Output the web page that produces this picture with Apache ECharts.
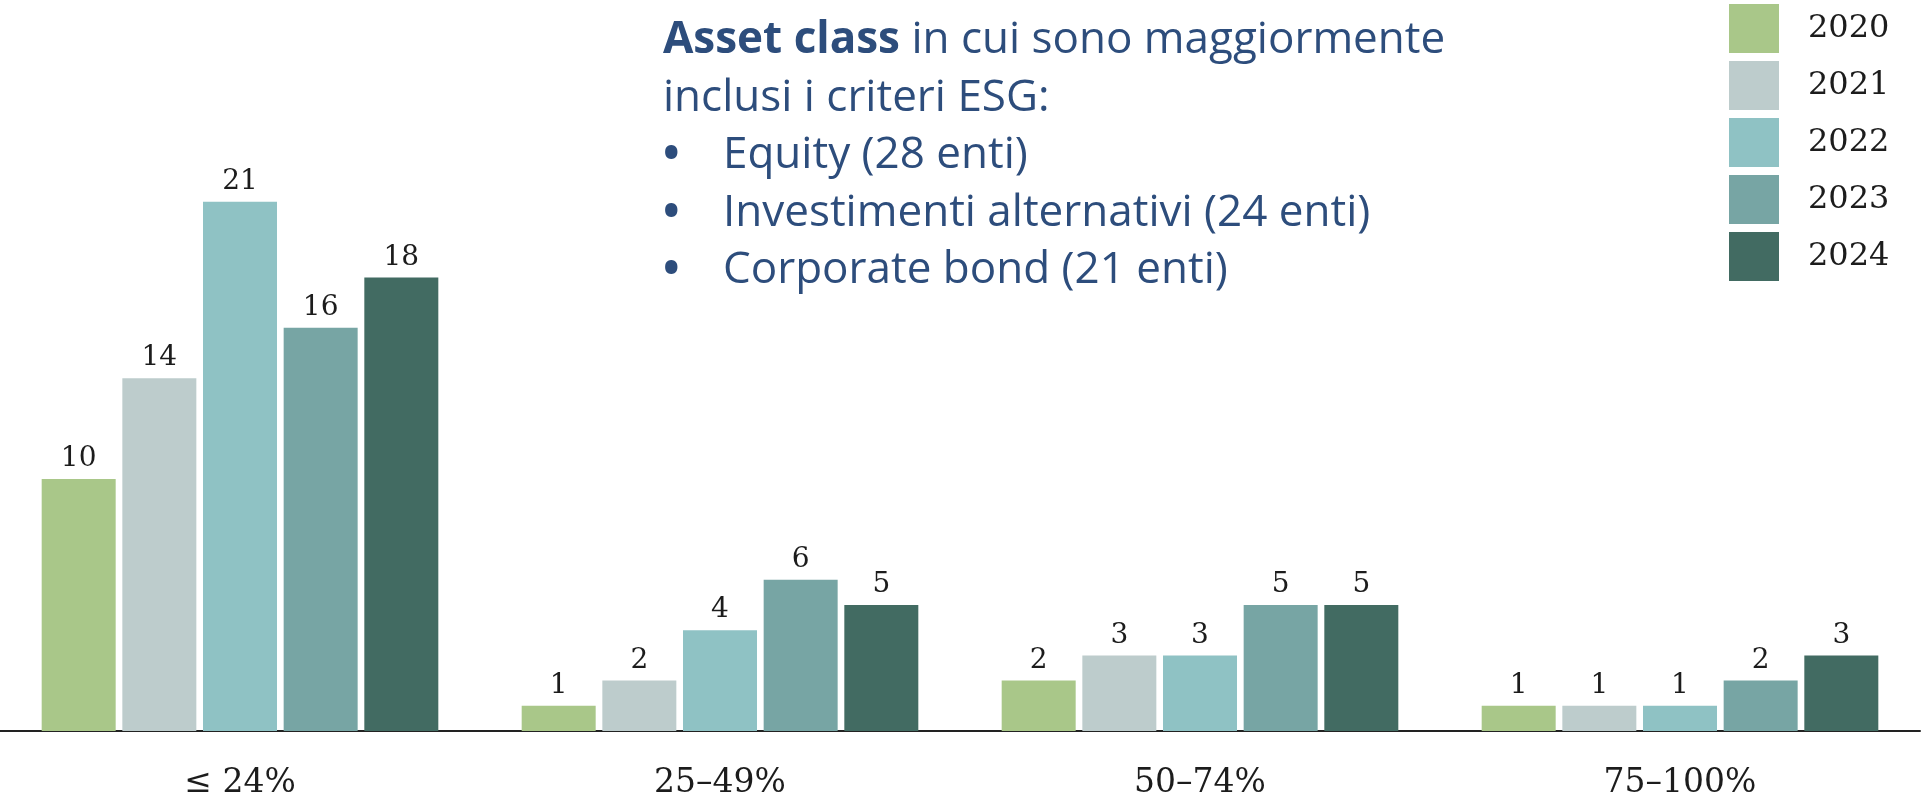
<!DOCTYPE html>
<html>
<head>
<meta charset="utf-8">
<style>
  html, body { margin: 0; padding: 0; background: #ffffff; }
  #content { width: 1921px; height: 807px; }
</style>
<script src="https://cdn.jsdelivr.net/npm/echarts@6/dist/echarts.min.js"></script>
</head>
<body>
<div id="content"></div>
<script>
var categories = ['≤ 24%', '25–49%', '50–74%', '75–100%'];
var years = ['2020', '2021', '2022', '2023', '2024'];
var values2020 = [10, 1, 2, 1];
var values2021 = [14, 2, 3, 1];
var values2022 = [21, 4, 3, 1];
var values2023 = [16, 6, 5, 2];
var values2024 = [18, 5, 5, 3];
var colors = ['#a9c789', '#bdcccc', '#8fc2c4', '#77a5a4', '#426b62'];

var myChart = echarts.init(document.getElementById('content'));

var blue = '#2d4d7c';
var serif = 'DejaVu Serif';
var sans = 'Open Sans';
var ink = '#1c1c1c';

function makeSeries(name, data, color) {
    return {
        name: name,
        type: 'bar',
        data: data,
        barWidth: 74,
        barGap: '9%',
        itemStyle: { color: color },
        label: {
            show: true,
            position: 'top',
            distance: 6,
            fontFamily: serif,
            fontSize: 28,
            color: ink
        }
    };
}

var option = {
    animation: false,
    color: colors,
    title: {
        left: 663,
        top: 12,
        padding: 0,
        text: '{b|Asset class}{n| in cui sono maggiormente}\n' +
              '{n|inclusi i criteri ESG:}\n' +
              '{dot|•}{n|Equity (28 enti)}\n' +
              '{dot|•}{n|Investimenti alternativi (24 enti)}\n' +
              '{dot|•}{n|Corporate bond (21 enti)}',
        textStyle: {
            rich: {
                b: { fontFamily: sans, fontWeight: 'bold', fontSize: 44, color: blue, lineHeight: 57.5 },
                n: { fontFamily: sans, fontWeight: 'normal', fontSize: 44, color: blue, lineHeight: 57.5 },
                dot: { fontFamily: sans, fontSize: 44, color: blue, lineHeight: 57.5, width: 60 }
            }
        }
    },
    legend: {
        orient: 'vertical',
        left: 1729,
        top: 4,
        padding: 0,
        itemWidth: 50,
        itemHeight: 49,
        itemGap: 8,
        icon: 'rect',
        data: years,
        textStyle: {
            fontFamily: serif,
            fontSize: 32,
            color: ink,
            padding: [0, 0, 0, 24]
        }
    },
    grid: {
        left: -3,
        right: 1,
        top: 101,
        bottom: 76
    },
    xAxis: {
        type: 'category',
        data: categories,
        axisLine: { lineStyle: { color: '#222', width: 2 } },
        axisTick: { show: false },
        axisLabel: {
            margin: 36,
            fontFamily: serif,
            fontSize: 33,
            color: ink
        }
    },
    yAxis: {
        type: 'value',
        min: 0,
        max: 25,
        show: false,
        splitLine: { show: false }
    },
    series: [
        makeSeries(years[0], values2020, colors[0]),
        makeSeries(years[1], values2021, colors[1]),
        makeSeries(years[2], values2022, colors[2]),
        makeSeries(years[3], values2023, colors[3]),
        makeSeries(years[4], values2024, colors[4])
    ]
};
myChart.setOption(option);
</script>
</body>
</html>
